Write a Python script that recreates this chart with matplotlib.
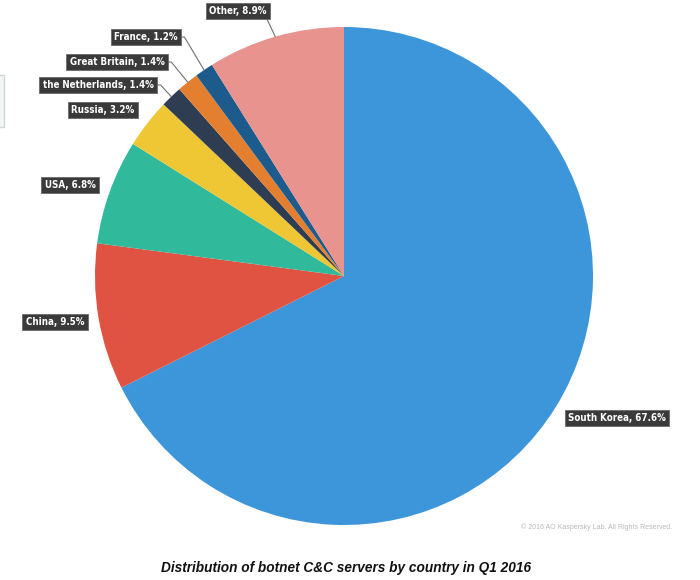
import math
import matplotlib
matplotlib.use("Agg")
import matplotlib.pyplot as plt
from matplotlib.patches import Rectangle
from matplotlib import font_manager

countries = ["South Korea", "China", "USA", "Russia", "the Netherlands",
             "Great Britain", "France", "Other"]
shares = [67.6, 9.5, 6.8, 3.2, 1.4, 1.4, 1.2, 8.9]
colors = ["#3d96da", "#e05242", "#30b99a", "#efc633", "#2e3d52",
          "#e47f2f", "#1e5b8d", "#e8938e"]

# label box centres in figure pixels (x, y from top), and whether a leader line is drawn
label_pos = [(617, 418), (55, 322), (70, 185), (103, 110), (98, 85),
             (117, 62), (146, 37), (238, 11)]
leader = [False, False, False, False, True, True, True, True]
corner_px = [None, None, None, None, (157, 81), (168, 58), (182, 33), (266, 17)]

W, H = 700, 580
fig = plt.figure(figsize=(W / 100, H / 100), dpi=100)
fig.patch.set_facecolor("white")

# find a narrow font if installed
names = {f.name for f in font_manager.fontManager.ttflist}
condensed = any("Condensed" in f.fname or "Narrow" in f.fname
                for f in font_manager.fontManager.ttflist if f.name == "DejaVu Sans")
if "Liberation Sans Narrow" in names:
    font = ["Liberation Sans Narrow", "DejaVu Sans"]
    lab_size, stretch = 8.0, "normal"
elif condensed:
    font = ["DejaVu Sans", "DejaVu Sans"]
    lab_size, stretch = 7.0, "condensed"
else:
    font = ["DejaVu Sans"]
    lab_size, stretch = 6.5, "normal"

cx, cy, r = 344, 276, 249
ax = fig.add_axes([(cx - r) / W, (H - cy - r) / H, 2 * r / W, 2 * r / H])
wedges, _ = ax.pie(shares, colors=colors, startangle=90, counterclock=False,
                   radius=1.0, wedgeprops=dict(linewidth=0))
ax.set_xlim(-1, 1)
ax.set_ylim(-1, 1)
ax.set_aspect("equal")
ax.axis("off")

total = sum(shares)
cum = 0.0
for name, val, (lx, ly), has_leader, corner in zip(countries, shares, label_pos, leader, corner_px):
    mid = cum + val / 2
    cum += val
    ang = math.radians(90 - 360 * mid / total)
    px, py = math.cos(ang), math.sin(ang)
    txt = f"{name}, {val}%"
    bbox = dict(boxstyle="square,pad=0.35", fc="#3a3a3a", ec="#6a6a6a", lw=0.6)
    if has_leader:
        bx = cx + px * r
        by = cy - py * r
        angB = math.degrees(math.atan2(-(corner[1] - by), corner[0] - bx))
        ax.annotate(txt, xy=(px, py), xycoords="data",
                    xytext=(lx, H - ly), textcoords="figure pixels",
                    ha="center", va="center", color="white", fontsize=lab_size,
                    fontweight="bold", family=font, fontstretch=stretch, bbox=bbox,
                    arrowprops=dict(arrowstyle="-", color="#707070", lw=0.8,
                                    shrinkA=0, shrinkB=0,
                                    connectionstyle=f"angle,angleA=0,angleB={angB:.1f},rad=0"),
                    annotation_clip=False)
    else:
        fig.text(lx / W, 1 - ly / H, txt, ha="center", va="center", color="white",
                 fontsize=lab_size, fontweight="bold", family=font,
                 fontstretch=stretch, bbox=bbox)

fig.text(597 / W, 1 - 527 / H, "\u00a9 2016 AO Kaspersky Lab. All Rights Reserved.",
         ha="center", va="center", color="#b8b8b8", fontsize=5.0,
         family=["Liberation Sans", "DejaVu Sans"])

fig.text(346 / W, 1 - 568 / H,
         "Distribution of botnet C&C servers by country in Q1 2016",
         ha="center", va="center", color="#111111", fontsize=9.8,
         fontweight="bold", fontstyle="italic",
         family=["Liberation Sans", "DejaVu Sans"])

# small cropped panel at the left edge
fig.patches.append(Rectangle((-3 / W, 1 - 127 / H), 7 / W, 52 / H,
                             transform=fig.transFigure, fc="#f3f6f5",
                             ec="#cfd8d6", lw=1.0))

fig.savefig("out.png", dpi=100, facecolor="white")
